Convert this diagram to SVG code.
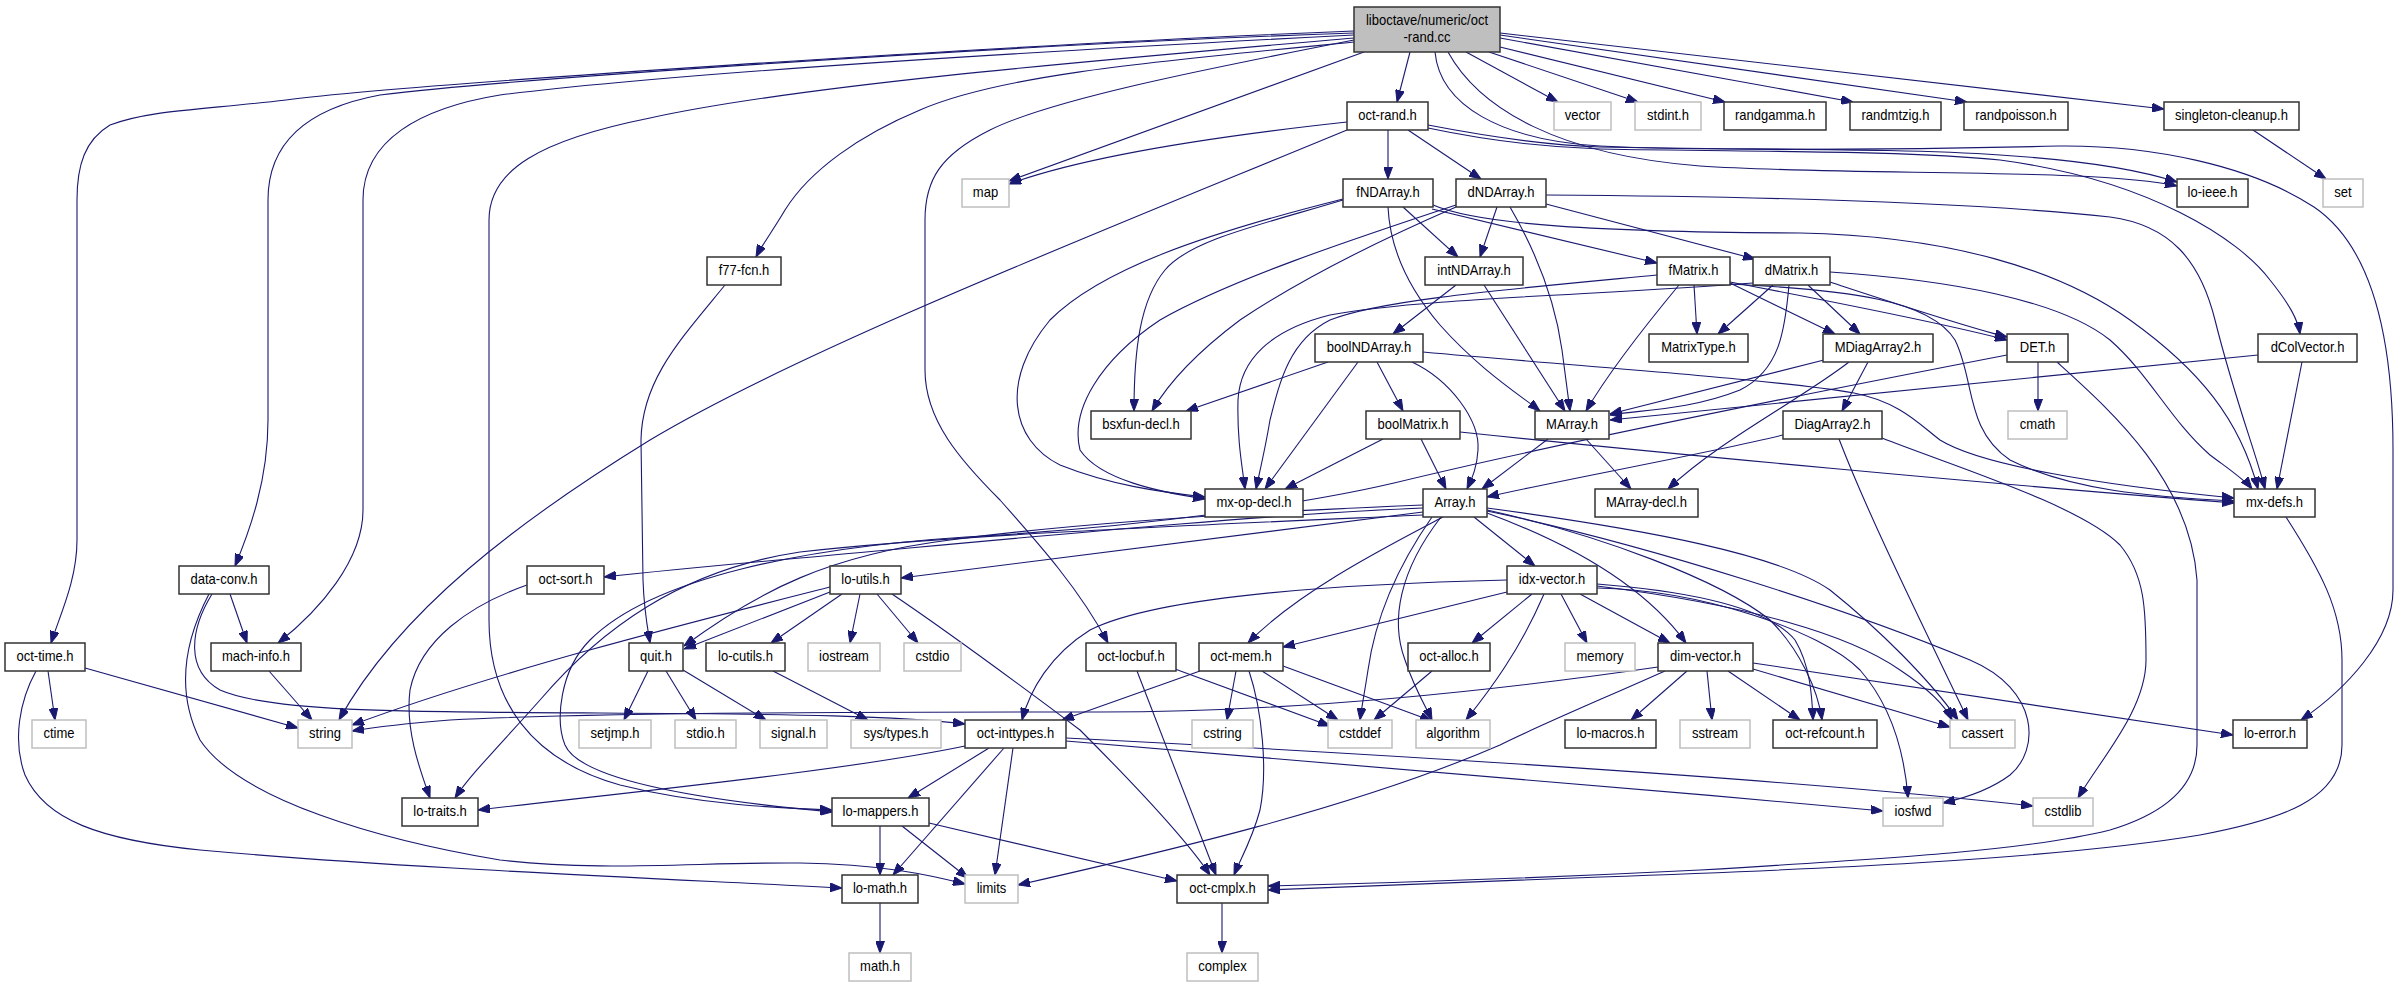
<svg xmlns="http://www.w3.org/2000/svg" width="2397" height="987" viewBox="0 0 2397 987">
<defs>
<marker id="ah" markerUnits="userSpaceOnUse" markerWidth="12" markerHeight="9" refX="12" refY="4.5" orient="auto"><path d="M0,0 L12,4.5 L0,9 z" fill="#191970" stroke="#191970" stroke-width="1"/></marker>
<style>
.n rect{fill:#fff;stroke:#333;stroke-width:1.5}
.s rect{fill:#fff;stroke:#bfbfbf;stroke-width:1.5}
.r rect{fill:#bfbfbf;stroke:#333;stroke-width:1.5}
text{font-family:"Liberation Sans",Arial,Helvetica,sans-serif;font-size:14px;fill:#000;text-anchor:middle}
#edges path{fill:none;stroke:#191970;stroke-width:1.1;marker-end:url(#ah)}
</style>
</defs>
<rect width="2397" height="987" fill="#fff"/>
<g id="edges">
<path d="M1410,52 L1397,102"/>
<path d="M1466,52 L1558,102"/>
<path d="M1489,52 L1638,102"/>
<path d="M1500,47 L1725,102"/>
<path d="M1500,38 L1853,102"/>
<path d="M1500,35 L1967,102"/>
<path d="M1500,33 L2164,109"/>
<path d="M1364,52 L1009,181"/>
<path d="M1448,52 C1480,110 1560,155 1700,166 C1850,176 2100,168 2177,186"/>
<path d="M1435,52 C1440,105 1500,140 1600,146 C1700,151 1900,150 2059,146 C2150,145 2250,165 2314,207 C2370,245 2393,330 2393,450 L2393,590 C2393,640 2345,690 2301,720"/>
<path d="M1428,125 C1480,135 1540,145 1600,147 C1750,150 1900,148 2000,155 C2080,160 2140,170 2177,182"/>
<path d="M1428,128 C1480,139 1540,147 1600,149 C1750,152 1900,150 2000,160 C2150,180 2240,240 2270,280 C2290,305 2298,320 2300,334"/>
<path d="M1354,42 C1150,62 1000,75 920,110 C860,135 810,170 785,210 C772,232 762,245 756,257"/>
<path d="M1354,38 C1100,60 800,85 650,118 C540,140 489,170 489,220 L489,620 C489,700 530,760 620,785 C700,805 780,808 832,810"/>
<path d="M1354,35 C1100,48 700,70 500,95 C420,108 363,140 363,200 L363,510 C363,560 320,610 278,643"/>
<path d="M1354,33 C1000,45 500,80 380,95 C310,108 268,140 268,200 L268,420 C268,480 250,530 235,566"/>
<path d="M1354,31 C1000,45 400,85 286,100 C200,110 150,110 110,125 C85,140 77,165 77,200 L77,540 C77,580 60,615 51,643"/>
<path d="M1354,40 C1200,70 1050,100 990,130 C940,155 925,180 925,220 L925,370 C925,420 960,460 1000,500 C1040,545 1080,590 1108,643"/>
<path d="M1347,122 C1200,138 1080,158 1009,184"/>
<path d="M1347,130 C1100,232 800,350 650,440 C520,520 400,610 339,720"/>
<path d="M1388,130 L1388,179"/>
<path d="M1408,130 L1481,179"/>
<path d="M1403,207 L1458,257"/>
<path d="M1497,207 L1480,257"/>
<path d="M1388,207 C1390,250 1410,290 1440,325 C1480,370 1520,395 1540,411"/>
<path d="M1510,207 C1535,250 1555,300 1562,350 C1566,380 1568,395 1570,411"/>
<path d="M1484,285 L1565,411"/>
<path d="M1456,285 L1393,334"/>
<path d="M1432,209 L1657,263"/>
<path d="M1546,204 L1755,259"/>
<path d="M1433,205 C1480,225 1600,232 1800,233 C1950,236 2060,270 2130,320 C2200,370 2240,420 2258,489"/>
<path d="M1546,195 C1700,196 1950,200 2110,217 C2170,225 2200,260 2215,320 C2235,400 2255,450 2265,489"/>
<path d="M1343,200 C1260,225 1190,240 1165,270 C1140,300 1134,350 1134,411"/>
<path d="M1343,199 C1200,235 1100,270 1050,320 C1000,380 1010,440 1060,465 C1110,485 1160,492 1205,497"/>
<path d="M1456,207 C1380,240 1300,280 1240,320 C1200,350 1170,380 1152,411"/>
<path d="M1456,205 C1350,240 1230,280 1160,320 C1100,360 1070,410 1080,450 C1100,480 1160,492 1205,499"/>
<path d="M1328,362 L1186,411"/>
<path d="M1358,362 L1265,489"/>
<path d="M1377,362 L1403,411"/>
<path d="M1412,362 C1450,380 1480,420 1478,450 C1477,468 1472,478 1467,489"/>
<path d="M1423,352 C1600,368 1780,380 1854,393 C1900,402 1920,425 1940,440 C1980,465 2100,485 2234,498"/>
<path d="M1383,439 L1285,489"/>
<path d="M1421,439 L1446,489"/>
<path d="M1460,432 C1650,452 2000,485 2234,503"/>
<path d="M1548,439 L1482,489"/>
<path d="M1586,439 L1631,489"/>
<path d="M1783,435 C1700,455 1560,480 1487,497"/>
<path d="M1824,360 L1610,414"/>
<path d="M1849,362 C1800,400 1720,440 1668,489"/>
<path d="M1868,362 L1842,411"/>
<path d="M1789,285 C1785,330 1780,370 1740,390 C1690,410 1640,410 1610,415"/>
<path d="M2258,355 L1610,420"/>
<path d="M2302,362 L2277,489"/>
<path d="M1679,285 C1650,320 1610,370 1586,411"/>
<path d="M1694,285 L1697,334"/>
<path d="M1773,285 L1718,334"/>
<path d="M1730,283 L1835,334"/>
<path d="M1808,285 L1860,334"/>
<path d="M1730,282 C1850,305 1950,325 2007,340"/>
<path d="M1830,282 C1900,305 1960,325 2007,337"/>
<path d="M1730,284 C1850,290 1930,300 1955,340 C1975,380 1965,430 2010,460 C2070,490 2150,497 2234,501"/>
<path d="M1830,272 C1950,280 2060,300 2110,340 C2150,375 2170,420 2210,455 C2230,470 2245,480 2252,489"/>
<path d="M1657,275 C1500,290 1380,300 1330,320 C1290,340 1280,380 1270,420 C1265,450 1260,470 1256,489"/>
<path d="M1753,283 C1600,295 1420,298 1330,315 C1270,330 1240,360 1238,400 C1237,440 1242,465 1245,489"/>
<path d="M2038,362 L2038,411"/>
<path d="M2057,362 C2110,410 2190,480 2197,580 L2197,745 C2197,790 2160,815 2110,830 C2030,850 1900,858 1700,870 C1500,880 1350,884 1268,886"/>
<path d="M2007,355 C1800,395 1550,445 1394,483 C1300,505 1150,525 1000,535 C800,545 650,580 590,640 C560,670 555,720 565,745 C580,780 700,800 832,812"/>
<path d="M1839,439 C1870,520 1930,640 1968,720"/>
<path d="M1882,438 C1950,465 2080,505 2120,545 C2145,575 2146,610 2146,660 C2146,710 2100,760 2078,798"/>
<path d="M2286,517 C2320,570 2342,610 2342,660 L2342,745 C2342,800 2280,820 2200,835 C2050,860 1800,870 1600,877 C1450,882 1330,887 1268,890"/>
<path d="M1423,508 C1250,515 1000,540 800,558 C700,567 650,572 604,577"/>
<path d="M1423,512 C1200,540 1000,565 901,578"/>
<path d="M1423,505 C1300,510 1100,520 950,540 C830,555 760,590 684,646"/>
<path d="M1423,515 C1200,525 950,535 800,552 C680,570 600,630 540,700 C500,745 470,775 455,798"/>
<path d="M1443,517 C1390,545 1300,590 1248,643"/>
<path d="M1432,517 C1395,570 1375,620 1368,670 C1365,690 1362,705 1360,720"/>
<path d="M1441,517 C1400,570 1390,620 1405,660 C1415,690 1425,705 1432,720"/>
<path d="M1474,517 L1535,566"/>
<path d="M1487,513 C1560,540 1640,580 1686,643"/>
<path d="M1487,510 C1600,535 1720,580 1770,620 C1800,650 1818,690 1822,720"/>
<path d="M1487,508 C1650,530 1780,555 1830,590 C1880,630 1930,680 1958,720"/>
<path d="M1487,511 C1650,545 1850,610 1970,660 C2040,690 2040,750 2010,775 C1990,790 1965,798 1943,803"/>
<path d="M1507,580 C1300,585 1150,600 1090,630 C1050,655 1030,690 1022,720"/>
<path d="M1507,592 L1283,647"/>
<path d="M1532,594 L1472,643"/>
<path d="M1544,594 C1520,650 1490,690 1466,720"/>
<path d="M1561,594 L1587,643"/>
<path d="M1580,594 L1670,643"/>
<path d="M1597,584 C1700,592 1770,610 1795,640 C1810,665 1812,695 1813,720"/>
<path d="M1597,586 C1750,605 1850,635 1900,670 C1930,690 1945,705 1952,720"/>
<path d="M1597,588 C1700,590 1820,630 1860,670 C1895,710 1905,760 1908,798"/>
<path d="M1658,667 C1500,690 1300,712 1100,712 C900,712 600,712 450,720 C400,724 370,728 352,731"/>
<path d="M1665,671 C1600,700 1540,725 1500,745 C1350,810 1150,855 1018,885"/>
<path d="M1687,671 L1631,720"/>
<path d="M1707,671 L1712,720"/>
<path d="M1728,671 L1800,720"/>
<path d="M1753,669 L1950,727"/>
<path d="M1753,663 L2233,735"/>
<path d="M1200,671 L1062,720"/>
<path d="M1236,671 L1227,720"/>
<path d="M1249,671 C1262,710 1268,770 1260,810 C1252,840 1240,860 1234,875"/>
<path d="M1262,671 L1338,720"/>
<path d="M1283,666 L1432,721"/>
<path d="M1175,669 L1330,726"/>
<path d="M1137,671 L1216,875"/>
<path d="M1432,671 L1374,720"/>
<path d="M830,587 C700,620 500,670 352,725"/>
<path d="M830,592 L684,649"/>
<path d="M842,594 L771,643"/>
<path d="M860,594 L850,643"/>
<path d="M877,594 L918,643"/>
<path d="M892,594 C960,640 1040,700 1080,730 C1140,790 1190,845 1210,875"/>
<path d="M648,671 L624,720"/>
<path d="M666,671 L696,720"/>
<path d="M683,670 L766,720"/>
<path d="M773,671 L868,720"/>
<path d="M725,285 C680,340 642,380 641,440 L643,580 C644,610 647,625 650,643"/>
<path d="M527,585 C470,605 420,640 410,690 C405,730 420,770 430,798"/>
<path d="M269,671 L312,720"/>
<path d="M230,594 L247,643"/>
<path d="M209,594 C185,640 175,690 200,740 C240,800 380,840 500,860 C600,872 700,862 800,863 C880,864 930,875 965,884"/>
<path d="M212,594 C190,630 185,670 220,690 C270,712 400,712 600,713 C800,714 900,716 965,724"/>
<path d="M48,671 L55,720"/>
<path d="M85,668 L298,728"/>
<path d="M36,671 C20,700 12,740 25,775 C45,820 100,840 200,850 C400,868 650,878 842,888"/>
<path d="M880,826 L880,875"/>
<path d="M902,826 L968,878"/>
<path d="M929,823 L1177,881"/>
<path d="M965,746 C850,770 650,790 478,810"/>
<path d="M989,748 L908,798"/>
<path d="M1004,748 L893,875"/>
<path d="M1013,748 L995,875"/>
<path d="M1066,741 C1300,760 1600,785 1883,811"/>
<path d="M1066,738 C1400,755 1800,780 2033,806"/>
<path d="M880,903 L880,953"/>
<path d="M1222,903 L1222,953"/>
<path d="M2253,130 L2326,179"/>
</g>
<g id="n_root" class="r"><rect x="1354" y="7" width="146" height="45"/><text transform="translate(1427,25) scale(.93,1)">liboctave/numeric/oct</text><text transform="translate(1427,41.5) scale(.93,1)">-rand.cc</text></g>
<g id="n_oct_rand_h" class="n"><rect x="1347" y="102" width="81" height="28"/><text transform="translate(1387.5,119.5) scale(.93,1)">oct-rand.h</text></g>
<g id="n_vector" class="s"><rect x="1554" y="102" width="57" height="28"/><text transform="translate(1582.5,119.5) scale(.93,1)">vector</text></g>
<g id="n_stdint_h" class="s"><rect x="1635" y="102" width="66" height="28"/><text transform="translate(1668,119.5) scale(.93,1)">stdint.h</text></g>
<g id="n_randgamma_h" class="n"><rect x="1724" y="102" width="102" height="28"/><text transform="translate(1775,119.5) scale(.93,1)">randgamma.h</text></g>
<g id="n_randmtzig_h" class="n"><rect x="1850" y="102" width="91" height="28"/><text transform="translate(1895.5,119.5) scale(.93,1)">randmtzig.h</text></g>
<g id="n_randpoisson_h" class="n"><rect x="1964" y="102" width="104" height="28"/><text transform="translate(2016,119.5) scale(.93,1)">randpoisson.h</text></g>
<g id="n_singleton_cleanup_h" class="n"><rect x="2164" y="102" width="135" height="28"/><text transform="translate(2231.5,119.5) scale(.93,1)">singleton-cleanup.h</text></g>
<g id="n_map" class="s"><rect x="962" y="179" width="47" height="28"/><text transform="translate(985.5,196.5) scale(.93,1)">map</text></g>
<g id="n_fNDArray_h" class="n"><rect x="1343" y="179" width="90" height="28"/><text transform="translate(1388,196.5) scale(.93,1)">fNDArray.h</text></g>
<g id="n_dNDArray_h" class="n"><rect x="1456" y="179" width="90" height="28"/><text transform="translate(1501,196.5) scale(.93,1)">dNDArray.h</text></g>
<g id="n_lo_ieee_h" class="n"><rect x="2177" y="179" width="71" height="28"/><text transform="translate(2212.5,196.5) scale(.93,1)">lo-ieee.h</text></g>
<g id="n_set" class="s"><rect x="2323" y="179" width="40" height="28"/><text transform="translate(2343,196.5) scale(.93,1)">set</text></g>
<g id="n_f77_fcn_h" class="n"><rect x="707" y="257" width="74" height="28"/><text transform="translate(744,274.5) scale(.93,1)">f77-fcn.h</text></g>
<g id="n_intNDArray_h" class="n"><rect x="1425" y="257" width="98" height="28"/><text transform="translate(1474,274.5) scale(.93,1)">intNDArray.h</text></g>
<g id="n_fMatrix_h" class="n"><rect x="1657" y="257" width="73" height="28"/><text transform="translate(1693.5,274.5) scale(.93,1)">fMatrix.h</text></g>
<g id="n_dMatrix_h" class="n"><rect x="1753" y="257" width="77" height="28"/><text transform="translate(1791.5,274.5) scale(.93,1)">dMatrix.h</text></g>
<g id="n_boolNDArray_h" class="n"><rect x="1315" y="334" width="108" height="28"/><text transform="translate(1369,351.5) scale(.93,1)">boolNDArray.h</text></g>
<g id="n_MatrixType_h" class="n"><rect x="1649" y="334" width="99" height="28"/><text transform="translate(1698.5,351.5) scale(.93,1)">MatrixType.h</text></g>
<g id="n_MDiagArray2_h" class="n"><rect x="1823" y="334" width="110" height="28"/><text transform="translate(1878,351.5) scale(.93,1)">MDiagArray2.h</text></g>
<g id="n_DET_h" class="n"><rect x="2007" y="334" width="61" height="28"/><text transform="translate(2037.5,351.5) scale(.93,1)">DET.h</text></g>
<g id="n_dColVector_h" class="n"><rect x="2258" y="334" width="99" height="28"/><text transform="translate(2307.5,351.5) scale(.93,1)">dColVector.h</text></g>
<g id="n_bsxfun_decl_h" class="n"><rect x="1091" y="411" width="100" height="28"/><text transform="translate(1141,428.5) scale(.93,1)">bsxfun-decl.h</text></g>
<g id="n_boolMatrix_h" class="n"><rect x="1366" y="411" width="94" height="28"/><text transform="translate(1413,428.5) scale(.93,1)">boolMatrix.h</text></g>
<g id="n_MArray_h" class="n"><rect x="1535" y="411" width="74" height="28"/><text transform="translate(1572,428.5) scale(.93,1)">MArray.h</text></g>
<g id="n_DiagArray2_h" class="n"><rect x="1783" y="411" width="99" height="28"/><text transform="translate(1832.5,428.5) scale(.93,1)">DiagArray2.h</text></g>
<g id="n_cmath" class="s"><rect x="2008" y="411" width="59" height="28"/><text transform="translate(2037.5,428.5) scale(.93,1)">cmath</text></g>
<g id="n_mx_op_decl_h" class="n"><rect x="1205" y="489" width="98" height="28"/><text transform="translate(1254,506.5) scale(.93,1)">mx-op-decl.h</text></g>
<g id="n_Array_h" class="n"><rect x="1423" y="489" width="64" height="28"/><text transform="translate(1455,506.5) scale(.93,1)">Array.h</text></g>
<g id="n_MArray_decl_h" class="n"><rect x="1595" y="489" width="103" height="28"/><text transform="translate(1646.5,506.5) scale(.93,1)">MArray-decl.h</text></g>
<g id="n_mx_defs_h" class="n"><rect x="2234" y="489" width="81" height="28"/><text transform="translate(2274.5,506.5) scale(.93,1)">mx-defs.h</text></g>
<g id="n_data_conv_h" class="n"><rect x="179" y="566" width="90" height="28"/><text transform="translate(224,583.5) scale(.93,1)">data-conv.h</text></g>
<g id="n_oct_sort_h" class="n"><rect x="527" y="566" width="77" height="28"/><text transform="translate(565.5,583.5) scale(.93,1)">oct-sort.h</text></g>
<g id="n_lo_utils_h" class="n"><rect x="830" y="566" width="71" height="28"/><text transform="translate(865.5,583.5) scale(.93,1)">lo-utils.h</text></g>
<g id="n_idx_vector_h" class="n"><rect x="1507" y="566" width="90" height="28"/><text transform="translate(1552,583.5) scale(.93,1)">idx-vector.h</text></g>
<g id="n_oct_time_h" class="n"><rect x="5" y="643" width="80" height="28"/><text transform="translate(45,660.5) scale(.93,1)">oct-time.h</text></g>
<g id="n_mach_info_h" class="n"><rect x="211" y="643" width="90" height="28"/><text transform="translate(256,660.5) scale(.93,1)">mach-info.h</text></g>
<g id="n_quit_h" class="n"><rect x="629" y="643" width="54" height="28"/><text transform="translate(656,660.5) scale(.93,1)">quit.h</text></g>
<g id="n_lo_cutils_h" class="n"><rect x="706" y="643" width="79" height="28"/><text transform="translate(745.5,660.5) scale(.93,1)">lo-cutils.h</text></g>
<g id="n_iostream" class="s"><rect x="808" y="643" width="72" height="28"/><text transform="translate(844,660.5) scale(.93,1)">iostream</text></g>
<g id="n_cstdio" class="s"><rect x="904" y="643" width="57" height="28"/><text transform="translate(932.5,660.5) scale(.93,1)">cstdio</text></g>
<g id="n_oct_locbuf_h" class="n"><rect x="1086" y="643" width="90" height="28"/><text transform="translate(1131,660.5) scale(.93,1)">oct-locbuf.h</text></g>
<g id="n_oct_mem_h" class="n"><rect x="1199" y="643" width="84" height="28"/><text transform="translate(1241,660.5) scale(.93,1)">oct-mem.h</text></g>
<g id="n_oct_alloc_h" class="n"><rect x="1408" y="643" width="82" height="28"/><text transform="translate(1449,660.5) scale(.93,1)">oct-alloc.h</text></g>
<g id="n_memory" class="s"><rect x="1565" y="643" width="70" height="28"/><text transform="translate(1600,660.5) scale(.93,1)">memory</text></g>
<g id="n_dim_vector_h" class="n"><rect x="1658" y="643" width="95" height="28"/><text transform="translate(1705.5,660.5) scale(.93,1)">dim-vector.h</text></g>
<g id="n_ctime" class="s"><rect x="32" y="720" width="54" height="28"/><text transform="translate(59,737.5) scale(.93,1)">ctime</text></g>
<g id="n_string" class="s"><rect x="298" y="720" width="54" height="28"/><text transform="translate(325,737.5) scale(.93,1)">string</text></g>
<g id="n_setjmp_h" class="s"><rect x="579" y="720" width="72" height="28"/><text transform="translate(615,737.5) scale(.93,1)">setjmp.h</text></g>
<g id="n_stdio_h" class="s"><rect x="675" y="720" width="61" height="28"/><text transform="translate(705.5,737.5) scale(.93,1)">stdio.h</text></g>
<g id="n_signal_h" class="s"><rect x="760" y="720" width="67" height="28"/><text transform="translate(793.5,737.5) scale(.93,1)">signal.h</text></g>
<g id="n_sys_types_h" class="s"><rect x="851" y="720" width="90" height="28"/><text transform="translate(896,737.5) scale(.93,1)">sys/types.h</text></g>
<g id="n_oct_inttypes_h" class="n"><rect x="965" y="720" width="101" height="28"/><text transform="translate(1015.5,737.5) scale(.93,1)">oct-inttypes.h</text></g>
<g id="n_cstring" class="s"><rect x="1192" y="720" width="61" height="28"/><text transform="translate(1222.5,737.5) scale(.93,1)">cstring</text></g>
<g id="n_cstddef" class="s"><rect x="1328" y="720" width="64" height="28"/><text transform="translate(1360,737.5) scale(.93,1)">cstddef</text></g>
<g id="n_algorithm" class="s"><rect x="1416" y="720" width="74" height="28"/><text transform="translate(1453,737.5) scale(.93,1)">algorithm</text></g>
<g id="n_lo_macros_h" class="n"><rect x="1565" y="720" width="91" height="28"/><text transform="translate(1610.5,737.5) scale(.93,1)">lo-macros.h</text></g>
<g id="n_sstream" class="s"><rect x="1680" y="720" width="70" height="28"/><text transform="translate(1715,737.5) scale(.93,1)">sstream</text></g>
<g id="n_oct_refcount_h" class="n"><rect x="1773" y="720" width="104" height="28"/><text transform="translate(1825,737.5) scale(.93,1)">oct-refcount.h</text></g>
<g id="n_cassert" class="s"><rect x="1950" y="720" width="65" height="28"/><text transform="translate(1982.5,737.5) scale(.93,1)">cassert</text></g>
<g id="n_lo_error_h" class="n"><rect x="2233" y="720" width="74" height="28"/><text transform="translate(2270,737.5) scale(.93,1)">lo-error.h</text></g>
<g id="n_lo_traits_h" class="n"><rect x="402" y="798" width="76" height="28"/><text transform="translate(440,815.5) scale(.93,1)">lo-traits.h</text></g>
<g id="n_lo_mappers_h" class="n"><rect x="832" y="798" width="97" height="28"/><text transform="translate(880.5,815.5) scale(.93,1)">lo-mappers.h</text></g>
<g id="n_iosfwd" class="s"><rect x="1883" y="798" width="60" height="28"/><text transform="translate(1913,815.5) scale(.93,1)">iosfwd</text></g>
<g id="n_cstdlib" class="s"><rect x="2033" y="798" width="60" height="28"/><text transform="translate(2063,815.5) scale(.93,1)">cstdlib</text></g>
<g id="n_lo_math_h" class="n"><rect x="842" y="875" width="76" height="28"/><text transform="translate(880,892.5) scale(.93,1)">lo-math.h</text></g>
<g id="n_limits" class="s"><rect x="965" y="875" width="53" height="28"/><text transform="translate(991.5,892.5) scale(.93,1)">limits</text></g>
<g id="n_oct_cmplx_h" class="n"><rect x="1177" y="875" width="91" height="28"/><text transform="translate(1222.5,892.5) scale(.93,1)">oct-cmplx.h</text></g>
<g id="n_math_h" class="s"><rect x="849" y="953" width="62" height="28"/><text transform="translate(880,970.5) scale(.93,1)">math.h</text></g>
<g id="n_complex" class="s"><rect x="1187" y="953" width="71" height="28"/><text transform="translate(1222.5,970.5) scale(.93,1)">complex</text></g>
</svg>
